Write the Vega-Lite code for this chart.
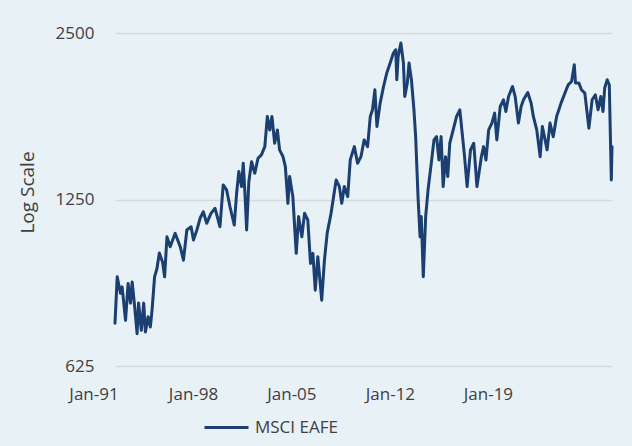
{
  "$schema": "https://vega.github.io/schema/vega-lite/v6.json",
  "autosize": "none",
  "padding": {"left": 115, "top": 33, "right": 20, "bottom": 80},
  "width": 497,
  "height": 333,
  "background": "#E8F1F5",
  "view": {"stroke": null},
  "config": {
    "font": "Open Sans",
    "axis": {"labelColor": "#404040", "titleColor": "#404040", "labelFont": "Open Sans", "titleFont": "Open Sans"},
    "legend": {"labelColor": "#404040", "labelFont": "Open Sans"}
  },
  "data": {"values": [
    {"year": 1991.00, "value": 747}, {"year": 1991.13, "value": 906}, {"year": 1991.32, "value": 846}, {"year": 1991.42, "value": 869},
    {"year": 1991.62, "value": 756}, {"year": 1991.77, "value": 881}, {"year": 1991.91, "value": 812}, {"year": 1992.01, "value": 887},
    {"year": 1992.16, "value": 799}, {"year": 1992.30, "value": 715}, {"year": 1992.39, "value": 812}, {"year": 1992.55, "value": 725},
    {"year": 1992.69, "value": 812}, {"year": 1992.79, "value": 720}, {"year": 1992.95, "value": 767}, {"year": 1993.08, "value": 735},
    {"year": 1993.18, "value": 788}, {"year": 1993.33, "value": 906}, {"year": 1993.47, "value": 938}, {"year": 1993.61, "value": 1000},
    {"year": 1993.80, "value": 964}, {"year": 1993.92, "value": 906}, {"year": 1994.06, "value": 1070}, {"year": 1994.25, "value": 1027},
    {"year": 1994.54, "value": 1086}, {"year": 1994.84, "value": 1027}, {"year": 1995.03, "value": 971}, {"year": 1995.23, "value": 1101},
    {"year": 1995.48, "value": 1116}, {"year": 1995.62, "value": 1056}, {"year": 1995.82, "value": 1101}, {"year": 1996.01, "value": 1156},
    {"year": 1996.20, "value": 1188}, {"year": 1996.40, "value": 1132}, {"year": 1996.65, "value": 1180}, {"year": 1996.89, "value": 1205},
    {"year": 1997.18, "value": 1116}, {"year": 1997.37, "value": 1328}, {"year": 1997.57, "value": 1301}, {"year": 1997.77, "value": 1213},
    {"year": 1998.02, "value": 1124}, {"year": 1998.16, "value": 1283}, {"year": 1998.29, "value": 1404}, {"year": 1998.45, "value": 1319},
    {"year": 1998.55, "value": 1454}, {"year": 1998.65, "value": 1283}, {"year": 1998.75, "value": 1101}, {"year": 1998.88, "value": 1346},
    {"year": 1999.04, "value": 1463}, {"year": 1999.23, "value": 1394}, {"year": 1999.42, "value": 1484}, {"year": 1999.62, "value": 1505},
    {"year": 1999.82, "value": 1558}, {"year": 1999.97, "value": 1766}, {"year": 2000.11, "value": 1670}, {"year": 2000.24, "value": 1766},
    {"year": 2000.40, "value": 1580}, {"year": 2000.56, "value": 1670}, {"year": 2000.69, "value": 1537}, {"year": 2000.89, "value": 1494},
    {"year": 2001.03, "value": 1433}, {"year": 2001.18, "value": 1230}, {"year": 2001.28, "value": 1375}, {"year": 2001.47, "value": 1265},
    {"year": 2001.67, "value": 999}, {"year": 2001.81, "value": 1164}, {"year": 2002.00, "value": 1070}, {"year": 2002.16, "value": 1180},
    {"year": 2002.35, "value": 1148}, {"year": 2002.51, "value": 958}, {"year": 2002.65, "value": 999}, {"year": 2002.79, "value": 857},
    {"year": 2002.94, "value": 985}, {"year": 2003.17, "value": 822}, {"year": 2003.33, "value": 971}, {"year": 2003.49, "value": 1086},
    {"year": 2003.72, "value": 1180}, {"year": 2004.02, "value": 1356}, {"year": 2004.21, "value": 1319}, {"year": 2004.35, "value": 1230},
    {"year": 2004.50, "value": 1319}, {"year": 2004.70, "value": 1265}, {"year": 2004.85, "value": 1474}, {"year": 2005.09, "value": 1558},
    {"year": 2005.28, "value": 1454}, {"year": 2005.48, "value": 1494}, {"year": 2005.67, "value": 1602}, {"year": 2005.87, "value": 1558},
    {"year": 2006.03, "value": 1766}, {"year": 2006.16, "value": 1816}, {"year": 2006.30, "value": 1974}, {"year": 2006.42, "value": 1694},
    {"year": 2006.61, "value": 1867}, {"year": 2006.81, "value": 2001}, {"year": 2007.00, "value": 2116}, {"year": 2007.20, "value": 2206},
    {"year": 2007.39, "value": 2300}, {"year": 2007.53, "value": 2332}, {"year": 2007.59, "value": 2058}, {"year": 2007.67, "value": 2268},
    {"year": 2007.83, "value": 2398}, {"year": 2007.98, "value": 2206}, {"year": 2008.06, "value": 1919}, {"year": 2008.21, "value": 2030},
    {"year": 2008.31, "value": 2206}, {"year": 2008.45, "value": 2058}, {"year": 2008.60, "value": 1816}, {"year": 2008.70, "value": 1624},
    {"year": 2008.84, "value": 1265}, {"year": 2008.96, "value": 1070}, {"year": 2009.03, "value": 1164}, {"year": 2009.15, "value": 906},
    {"year": 2009.29, "value": 1164}, {"year": 2009.43, "value": 1301}, {"year": 2009.62, "value": 1454}, {"year": 2009.78, "value": 1602},
    {"year": 2009.93, "value": 1624}, {"year": 2010.07, "value": 1474}, {"year": 2010.20, "value": 1624}, {"year": 2010.32, "value": 1319},
    {"year": 2010.46, "value": 1494}, {"year": 2010.59, "value": 1375}, {"year": 2010.71, "value": 1580}, {"year": 2010.91, "value": 1670},
    {"year": 2011.11, "value": 1766}, {"year": 2011.30, "value": 1816}, {"year": 2011.44, "value": 1648}, {"year": 2011.58, "value": 1494},
    {"year": 2011.73, "value": 1319}, {"year": 2011.93, "value": 1537}, {"year": 2012.12, "value": 1580}, {"year": 2012.31, "value": 1319},
    {"year": 2012.57, "value": 1494}, {"year": 2012.70, "value": 1558}, {"year": 2012.84, "value": 1474}, {"year": 2013.00, "value": 1670},
    {"year": 2013.19, "value": 1718}, {"year": 2013.35, "value": 1791}, {"year": 2013.48, "value": 1602}, {"year": 2013.68, "value": 1841},
    {"year": 2013.87, "value": 1893}, {"year": 2014.01, "value": 1803}, {"year": 2014.17, "value": 1919}, {"year": 2014.40, "value": 2001},
    {"year": 2014.56, "value": 1919}, {"year": 2014.75, "value": 1718}, {"year": 2014.91, "value": 1841}, {"year": 2015.05, "value": 1893},
    {"year": 2015.30, "value": 1951}, {"year": 2015.50, "value": 1867}, {"year": 2015.63, "value": 1766}, {"year": 2015.83, "value": 1670},
    {"year": 2016.03, "value": 1494}, {"year": 2016.16, "value": 1694}, {"year": 2016.32, "value": 1602}, {"year": 2016.44, "value": 1537},
    {"year": 2016.61, "value": 1718}, {"year": 2016.80, "value": 1624}, {"year": 2017.00, "value": 1766}, {"year": 2017.26, "value": 1867},
    {"year": 2017.49, "value": 1947}, {"year": 2017.68, "value": 2015}, {"year": 2017.88, "value": 2043}, {"year": 2018.04, "value": 2190},
    {"year": 2018.11, "value": 2030}, {"year": 2018.31, "value": 2030}, {"year": 2018.46, "value": 1974}, {"year": 2018.66, "value": 1947},
    {"year": 2018.90, "value": 1682}, {"year": 2019.09, "value": 1893}, {"year": 2019.28, "value": 1933}, {"year": 2019.44, "value": 1816},
    {"year": 2019.60, "value": 1919}, {"year": 2019.73, "value": 1803}, {"year": 2019.83, "value": 1988}, {"year": 2019.98, "value": 2058},
    {"year": 2020.10, "value": 2015}, {"year": 2020.22, "value": 1356}, {"year": 2020.26, "value": 1558}
  ]},
  "mark": {"type": "line", "strokeWidth": 3, "strokeJoin": "round", "strokeCap": "round"},
  "encoding": {
    "x": {
      "field": "year", "type": "quantitative",
      "scale": {"domain": [1991, 2020.26], "nice": false, "zero": false},
      "axis": {
        "values": [1991, 1996.86, 2002.65, 2008.45, 2014.22],
        "labelExpr": "datum.value < 1995 ? 'Jan-91' : datum.value < 2000 ? 'Jan-98' : datum.value < 2005 ? 'Jan-05' : datum.value < 2010 ? 'Jan-12' : 'Jan-19'",
        "labelOffset": -21.5, "labelFlush": false, "labelOverlap": false,
        "domain": false, "ticks": false, "grid": false,
        "labelFontSize": 17, "labelPadding": 20, "title": null
      }
    },
    "y": {
      "field": "value", "type": "quantitative",
      "scale": {"type": "log", "base": 2, "domain": [625, 2500], "nice": false},
      "axis": {
        "values": [625, 1250, 2500],
        "format": "d",
        "domain": false, "ticks": false,
        "grid": true, "gridColor": "#D9D9D9", "gridWidth": 1.5,
        "labelFontSize": 17, "labelPadding": 21,
        "title": "Log Scale", "titleFontSize": 19, "titleFontWeight": "normal", "titlePadding": 18, "titleY": 159
      }
    },
    "color": {
      "datum": "MSCI EAFE", "type": "nominal",
      "scale": {"range": ["#1A3F70"]},
      "legend": {
        "title": null, "orient": "none", "legendX": 88, "legendY": 371,
        "symbolType": "stroke", "symbolSize": 1936, "symbolStrokeWidth": 3,
        "labelFontSize": 17, "labelOffset": 5, "padding": 0
      }
    }
  }
}
